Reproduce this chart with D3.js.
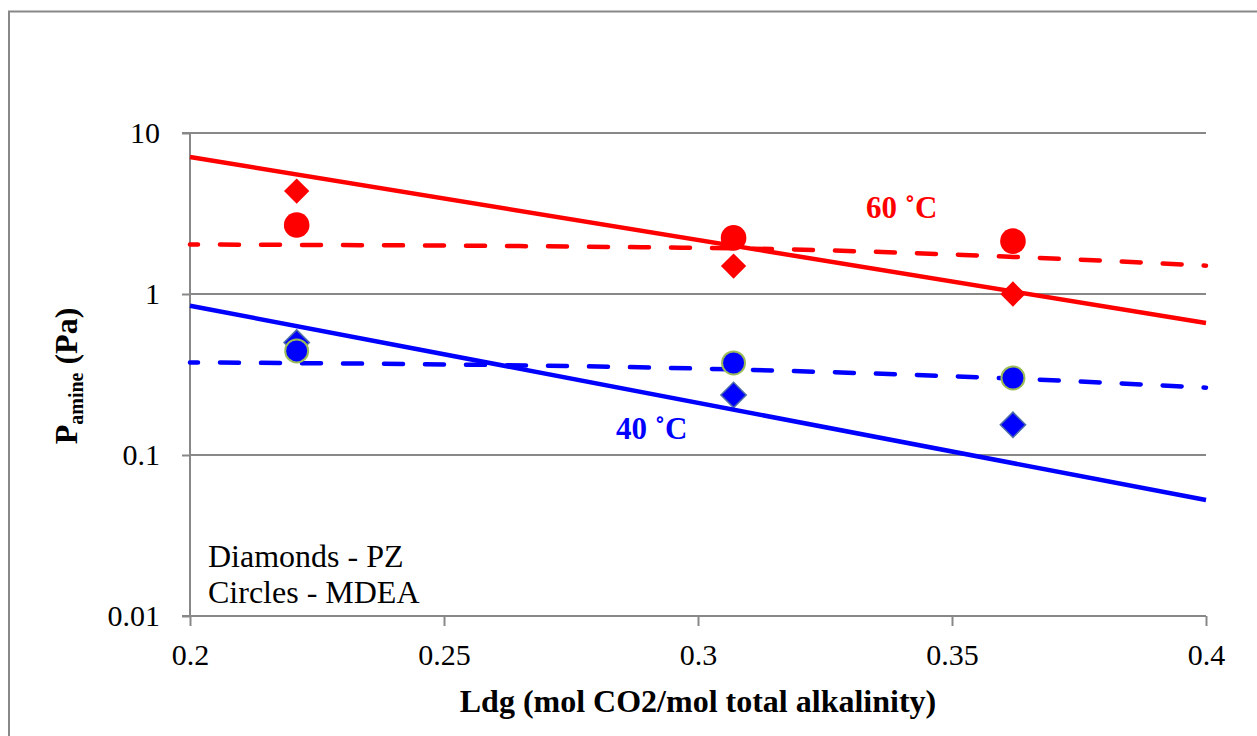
<!DOCTYPE html>
<html>
<head>
<meta charset="utf-8">
<script src="https://cdn.jsdelivr.net/npm/d3@7"></script>
<style>
  html, body { margin: 0; padding: 0; background: #fff; }
  svg { display: block; }
  text { font-family: "Liberation Serif", "Times New Roman", serif; }
</style>
</head>
<body>
<svg id="chart" width="1257" height="736"></svg>
<script>
// ---- data ----
const xTicks = [0.2, 0.25, 0.3, 0.35, 0.4];
const xTickLabels = ["0.2", "0.25", "0.3", "0.35", "0.4"];
const yTicks = [0.01, 0.1, 1, 10];
const yTickLabels = ["0.01", "0.1", "1", "10"];

const ldg = [0.221, 0.307, 0.362];
const pz60 = [4.36, 1.49, 1.0];
const mdea60 = [2.68, 2.23, 2.13];
const pz40 = [0.50, 0.236, 0.154];
const mdea40 = [0.443, 0.373, 0.301];

// trendlines
const fitX = [0.2, 0.4];
const fit60Solid = [7.1, 0.66];
const fit40Solid = [0.846, 0.0525];
const dashX = [0.2, 0.307, 0.362, 0.4];
const fit60Dashed = [2.03, 1.92, 1.70, 1.50];
const fit40Dashed = [0.376, 0.340, 0.298, 0.262];

// ---- layout ----
const svg = d3.select("#chart");
const L = 190, R = 1206, T = 133, B = 616;
const x = d3.scaleLinear().domain([0.2, 0.4]).range([L, R]);
const y = d3.scaleLog().domain([0.01, 10]).range([B, T]);
const grey = "#888888";

// outer border
svg.append("path")
  .attr("d", `M9,745 V11.5 H1270`)
  .attr("fill", "none").attr("stroke", grey).attr("stroke-width", 2);

// gridlines
svg.append("g").selectAll("line").data(yTicks.filter(v => v > 0.01)).join("line")
  .attr("x1", L).attr("x2", R)
  .attr("y1", d => y(d)).attr("y2", d => y(d))
  .attr("stroke", grey).attr("stroke-width", 2);

// axes
const yAxis = d3.axisLeft(y).tickValues(yTicks)
  .tickFormat((d, i) => yTickLabels[i]).tickSize(8).tickPadding(22);
const gy = svg.append("g").attr("transform", `translate(${L},0)`).call(yAxis);
gy.attr("font-family", null).attr("font-size", null);
gy.select(".domain").attr("stroke", grey).attr("stroke-width", 2).attr("d", `M-8,${T}H0V${B}H-8`);
gy.selectAll(".tick line").attr("stroke", grey).attr("stroke-width", 2);
gy.selectAll(".tick text").attr("font-size", 30).attr("fill", "#000");

const xAxis = d3.axisBottom(x).tickValues(xTicks)
  .tickFormat((d, i) => xTickLabels[i]).tickSize(10).tickPadding(18);
const gx = svg.append("g").attr("transform", `translate(0,${B})`).call(xAxis);
gx.attr("font-family", null).attr("font-size", null);
gx.select(".domain").attr("stroke", grey).attr("stroke-width", 2).attr("d", `M${L},0H${R}`);
gx.selectAll(".tick line").attr("stroke", grey).attr("stroke-width", 2);
gx.selectAll(".tick text").attr("font-size", 30).attr("fill", "#000");

// fit lines
const solidLine = d3.line().x(d => x(d[0])).y(d => y(d[1]));
const curveLine = d3.line().x(d => x(d[0])).y(d => y(d[1])).curve(d3.curveMonotoneX);
function fitSolid(vals, color) {
  svg.append("path")
    .datum(fitX.map((v, i) => [v, vals[i]]))
    .attr("d", solidLine)
    .attr("fill", "none").attr("stroke", color).attr("stroke-width", 4.5);
}
function fitDashed(vals, color) {
  svg.append("path")
    .datum(dashX.map((v, i) => [v, vals[i]]))
    .attr("d", curveLine)
    .attr("fill", "none").attr("stroke", color).attr("stroke-width", 4.5)
    .attr("stroke-linecap", "round")
    .attr("stroke-dasharray", "19,22")
    .attr("stroke-dashoffset", 11);
}
fitDashed(fit60Dashed, "#ff0000");
fitDashed(fit40Dashed, "#0000ff");

// markers
const diamond = d3.symbol().type(d3.symbolSquare).size(320);
function diamonds(vals, fill, stroke) {
  svg.append("g").selectAll("path").data(ldg.map((v, i) => [v, vals[i]])).join("path")
    .attr("d", diamond)
    .attr("transform", d => `translate(${x(d[0])},${y(d[1])}) rotate(45)`)
    .attr("fill", fill)
    .attr("stroke", stroke || "none")
    .attr("stroke-width", stroke ? 1.5 : 0);
}
function circles(vals, fill, stroke) {
  svg.append("g").selectAll("circle").data(ldg.map((v, i) => [v, vals[i]])).join("circle")
    .attr("cx", d => x(d[0])).attr("cy", d => y(d[1]))
    .attr("r", stroke ? 11.5 : 12.8)
    .attr("fill", fill)
    .attr("stroke", stroke || "none")
    .attr("stroke-width", stroke ? 2 : 0);
}
diamonds(pz40, "#0000ff", "#4f6fa8");
circles(mdea40, "#0000ff", "#9bbb59");
fitSolid(fit40Solid, "#0000ff");
diamonds(pz60, "#ff0000", null);
circles(mdea60, "#ff0000", null);
fitSolid(fit60Solid, "#ff0000");

// annotations
svg.append("text").attr("x", 866).attr("y", 218).attr("font-size", 31)
  .attr("font-weight", "bold").attr("fill", "#ff0000").text("60 ˚C");
svg.append("text").attr("x", 616).attr("y", 439).attr("font-size", 31)
  .attr("font-weight", "bold").attr("fill", "#0000ff").text("40 ˚C");

svg.append("text").attr("x", 208).attr("y", 567).attr("font-size", 32)
  .attr("fill", "#000").text("Diamonds - PZ");
svg.append("text").attr("x", 208).attr("y", 603).attr("font-size", 32)
  .attr("fill", "#000").text("Circles - MDEA");

// axis titles
svg.append("text").attr("x", (L + R) / 2).attr("y", 712).attr("text-anchor", "middle")
  .attr("font-size", 32).attr("font-weight", "bold").attr("fill", "#000")
  .text("Ldg (mol CO2/mol total alkalinity)");

const yt = svg.append("text")
  .attr("transform", `translate(77,376) rotate(-90)`)
  .attr("text-anchor", "middle").attr("font-size", 32).attr("font-weight", "bold").attr("fill", "#000");
yt.append("tspan").text("P");
yt.append("tspan").attr("font-size", 20).attr("dy", 6).text("amine");
yt.append("tspan").attr("dy", -6).text(" (Pa)");
</script>
</body>
</html>
